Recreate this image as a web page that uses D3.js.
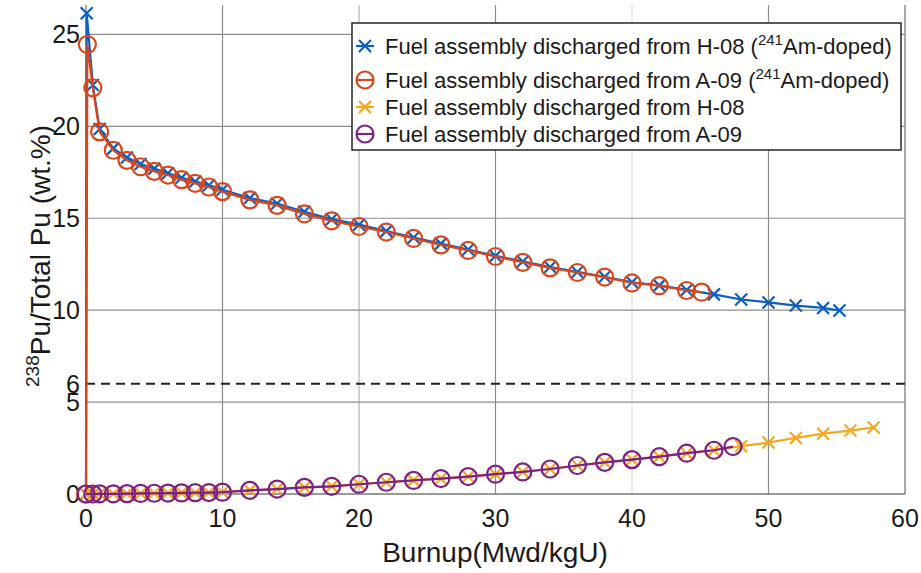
<!DOCTYPE html>
<html>
<head>
<meta charset="utf-8">
<script src="https://cdn.jsdelivr.net/npm/d3@7/dist/d3.min.js"></script>
<style>
  body { margin: 0; background: #fff; }
  text { font-family: "Liberation Sans", Arial, sans-serif; fill: #1a1a1a; }
</style>
</head>
<body>
<div id="chart"></div>
<script>
// burnup points (Mwd/kgU) and 238Pu/Pu (wt.%) for each assembly
var xH08Am = [0, 0.05, 0.5, 1, 2, 3, 4, 5, 6, 7, 8, 9, 10, 12, 14, 16, 18, 20, 22, 24, 26, 28, 30, 32, 34, 36, 38, 40, 42, 44, 46, 48, 50, 52, 54, 55.2];
var yH08Am = [0, 26.15, 22.25, 19.85, 18.8, 18.3, 17.95, 17.7, 17.45, 17.2, 17.0, 16.8, 16.55, 16.1, 15.8, 15.35, 14.95, 14.65, 14.3, 13.95, 13.62, 13.3, 12.95, 12.65, 12.35, 12.08, 11.82, 11.52, 11.35, 11.1, 10.86, 10.58, 10.42, 10.25, 10.12, 9.98];

var xA09Am = [0, 0.1, 0.5, 1, 2, 3, 4, 5, 6, 7, 8, 9, 10, 12, 14, 16, 18, 20, 22, 24, 26, 28, 30, 32, 34, 36, 38, 40, 42, 44, 45.1];
var yA09Am = [0, 24.45, 22.1, 19.7, 18.7, 18.15, 17.8, 17.55, 17.35, 17.1, 16.9, 16.7, 16.45, 16.0, 15.7, 15.24, 14.86, 14.55, 14.25, 13.9, 13.55, 13.25, 12.92, 12.6, 12.3, 12.05, 11.8, 11.48, 11.33, 11.07, 10.98];

var xH08 = [0, 0.5, 1, 2, 3, 4, 5, 6, 7, 8, 9, 10, 12, 14, 16, 18, 20, 22, 24, 26, 28, 30, 32, 34, 36, 38, 40, 42, 44, 46, 48, 50, 52, 54, 56, 57.7];
var yH08 = [0, 0, 0.01, 0.01, 0.02, 0.03, 0.04, 0.05, 0.06, 0.07, 0.08, 0.1, 0.2, 0.27, 0.36, 0.42, 0.53, 0.64, 0.74, 0.84, 0.95, 1.08, 1.2, 1.36, 1.55, 1.72, 1.87, 2.03, 2.22, 2.38, 2.6, 2.8, 3.05, 3.28, 3.45, 3.62];

var xA09 = [0, 0.5, 1, 2, 3, 4, 5, 6, 7, 8, 9, 10, 12, 14, 16, 18, 20, 22, 24, 26, 28, 30, 32, 34, 36, 38, 40, 42, 44, 46, 47.4];
var yA09 = [0, 0, 0.01, 0.01, 0.02, 0.03, 0.04, 0.05, 0.06, 0.07, 0.08, 0.1, 0.2, 0.27, 0.36, 0.42, 0.53, 0.64, 0.74, 0.84, 0.95, 1.08, 1.2, 1.36, 1.55, 1.72, 1.87, 2.03, 2.22, 2.38, 2.58];

var xTicks = [0, 10, 20, 30, 40, 50, 60];
var yTicks = [0, 5, 6, 10, 15, 20, 25];
var yGrid = [5, 10, 15, 20, 25];
var limitLine = 6;

var series = [
	{ name: 'Fuel assembly discharged from H-08 (', sup: '241', tail: 'Am-doped)', xs: xH08Am, ys: yH08Am, color: '#0a5fc0', marker: 'x' },
	{ name: 'Fuel assembly discharged from A-09 (', sup: '241', tail: 'Am-doped)', xs: xA09Am, ys: yA09Am, color: '#d9461b', marker: 'o' },
	{ name: 'Fuel assembly discharged from H-08', xs: xH08, ys: yH08, color: '#f5a81c', marker: 'x' },
	{ name: 'Fuel assembly discharged from A-09', xs: xA09, ys: yA09, color: '#7e1f86', marker: 'o' }
];

var W = 921, H = 573;
var x = d3.scaleLinear().domain([0, 60]).range([86, 905]);
var y = d3.scaleLinear().domain([0, 26.6]).range([494, 5]);

var svg = d3.select('#chart').append('svg')
	.attr('width', W)
	.attr('height', H);

// grid
svg.append('g').selectAll('line')
	.data(xTicks.slice(1, -1))
	.enter().append('line')
	.attr('x1', d => x(d)).attr('x2', d => x(d))
	.attr('y1', y.range()[0]).attr('y2', y.range()[1])
	.attr('stroke', d => d == 40 ? '#dcdcdc' : (d == 20 ? '#b4b4b4' : '#8c8c8c'))
	.attr('stroke-width', 1.2);

svg.append('g').selectAll('line')
	.data(yGrid)
	.enter().append('line')
	.attr('x1', x.range()[0]).attr('x2', x.range()[1])
	.attr('y1', d => y(d)).attr('y2', d => y(d))
	.attr('stroke', '#8c8c8c')
	.attr('stroke-width', 1.2);

// frame (left, bottom, right)
svg.append('path')
	.attr('d', 'M' + x(0) + ',' + y.range()[1] + 'V' + y(0) + 'H' + x(60) + 'V' + y.range()[1])
	.attr('fill', 'none')
	.attr('stroke', '#7a7a7a')
	.attr('stroke-width', 1.3);

// dashed 6 wt.% line
svg.append('line')
	.attr('x1', x(0)).attr('x2', x(60))
	.attr('y1', y(limitLine)).attr('y2', y(limitLine))
	.attr('stroke', '#222')
	.attr('stroke-width', 2)
	.attr('stroke-dasharray', '9,6');

// tick labels
svg.append('g').selectAll('text')
	.data(xTicks)
	.enter().append('text')
	.attr('x', d => x(d))
	.attr('y', 527)
	.attr('text-anchor', 'middle')
	.style('font-size', '25px')
	.text(d => d);

svg.append('g').selectAll('text')
	.data(yTicks)
	.enter().append('text')
	.attr('x', 80)
	.attr('y', d => y(d) + 9)
	.attr('text-anchor', 'end')
	.style('font-size', '25px')
	.text(d => d);

// axis titles
svg.append('text')
	.attr('x', 495)
	.attr('y', 562)
	.attr('text-anchor', 'middle')
	.style('font-size', '28px')
	.text('Burnup(Mwd/kgU)');

var yt = svg.append('text')
	.attr('transform', 'translate(50,256) rotate(-90)')
	.attr('text-anchor', 'middle')
	.style('font-size', '28px');
yt.append('tspan').style('font-size', '19px').attr('dy', -11).text('238');
yt.append('tspan').attr('dy', 11).text('Pu/Total Pu (wt.%)');

// data
var line = d3.line().x(d => x(d[0])).y(d => y(d[1]));

function drawMarker(g, m, color) {
	if (m == 'x') {
		g.append('path')
			.attr('d', 'M-6,-6L6,6M-6,6L6,-6')
			.attr('stroke', color)
			.attr('stroke-width', 2.2)
			.attr('fill', 'none');
	} else {
		g.append('circle')
			.attr('r', 8.5)
			.attr('stroke', color)
			.attr('stroke-width', 2.2)
			.attr('fill', 'none');
	}
}

series.forEach(function(s) {
	var pts = s.xs.map((v, i) => [v, s.ys[i]]);
	var g = svg.append('g');
	g.append('path')
		.datum(pts)
		.attr('d', line)
		.attr('fill', 'none')
		.attr('stroke', s.color)
		.attr('stroke-width', 2.2);
	g.selectAll('g.m')
		.data(pts)
		.enter().append('g')
		.attr('class', 'm')
		.attr('transform', d => 'translate(' + x(d[0]) + ',' + y(d[1]) + ')')
		.each(function() { drawMarker(d3.select(this), s.marker, s.color); });
});

// legend
var legend = svg.append('g');
legend.append('rect')
	.attr('x', 352).attr('y', 23)
	.attr('width', 549).attr('height', 127)
	.attr('fill', '#fff')
	.attr('stroke', '#262626')
	.attr('stroke-width', 1.5);

var rowY = [46, 80, 107, 134];
series.forEach(function(s, i) {
	var row = legend.append('g').attr('transform', 'translate(0,' + rowY[i] + ')');
	row.append('line')
		.attr('x1', 356).attr('x2', 374)
		.attr('stroke', s.color).attr('stroke-width', 2.2);
	var mk = row.append('g').attr('transform', 'translate(365,0)');
	drawMarker(mk, s.marker, s.color);
	var t = row.append('text')
		.attr('x', 385)
		.attr('y', 8)
		.style('font-size', '22px');
	t.append('tspan').text(s.name);
	if (s.sup) {
		t.append('tspan').style('font-size', '15px').attr('dy', -9).text(s.sup);
		t.append('tspan').attr('dy', 9).text(s.tail);
	}
});
</script>
</body>
</html>
